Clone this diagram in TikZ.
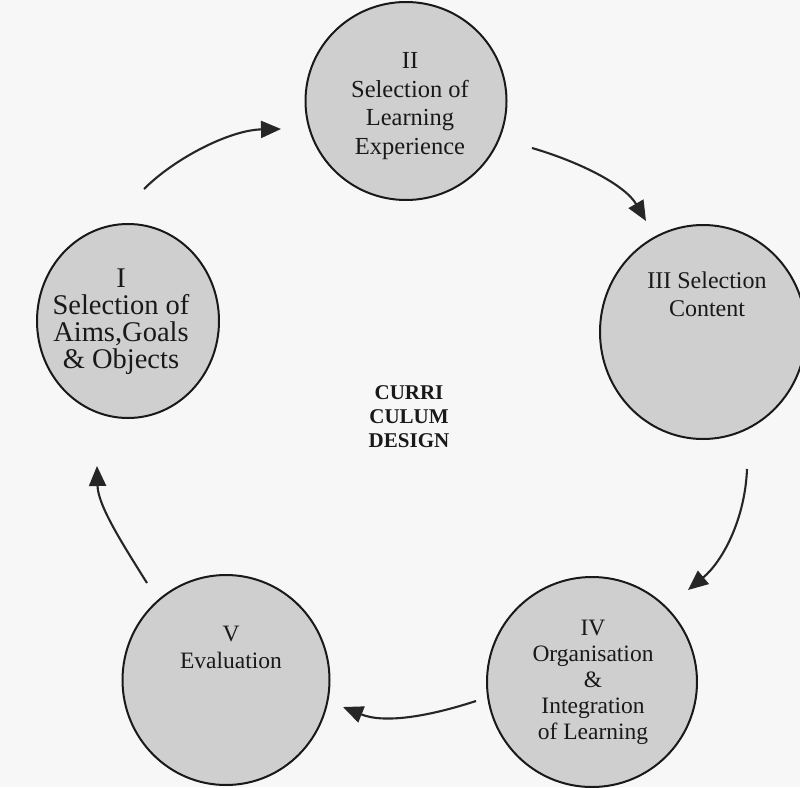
\documentclass[tikz,border=0pt]{standalone}
\usepackage{fontspec}
\setmainfont{Liberation Serif}
\usetikzlibrary{arrows.meta,shapes.geometric}
\tikzset{
  stage/.style={ellipse, draw=black!90, line width=2pt, fill=black!19, inner sep=0pt},
  stagetext/.style={align=center, text=black!90, inner sep=0pt},
  cycarrow/.style={draw=black!85, line width=2.1pt, -{Triangle[length=20pt,width=17pt]}}
}
\begin{document}
\begin{tikzpicture}[x=1pt,y=-1pt]
\fill[black!3] (0,0) rectangle (800,787);
\useasboundingbox (0,0) rectangle (800,787);
% circles
\node[stage, minimum width=182pt, minimum height=194pt] (c1) at (128,321) {};
\node[stage, minimum width=201pt, minimum height=198pt] (c2) at (406,101) {};
\node[stage, minimum width=206pt, minimum height=214pt] (c3) at (703,332) {};
\node[stage, minimum width=210pt, minimum height=210pt] (c4) at (592,682) {};
\node[stage, minimum width=207pt, minimum height=210pt] (c5) at (226,680) {};
% texts
\node[stagetext, font=\fontsize{28.5}{27}\selectfont] (t1) at (121,322) {I\\Selection of\\Aims,Goals\\\& Objects};
\node[stagetext, font=\fontsize{24.5}{28.5}\selectfont] (t2) at (410,106) {II\\Selection of\\Learning\\Experience};
\node[stagetext, font=\fontsize{24}{28}\selectfont] (t3) at (707,294) {III Selection\\Content};
\node[stagetext, font=\fontsize{23.5}{26}\selectfont] (t4) at (593,682) {IV\\Organisation\\\&\\Integration\\of Learning};
\node[stagetext, font=\fontsize{23.5}{27}\selectfont] (t5) at (231,647) {V\\Evaluation};
\node[stagetext, font=\bfseries\fontsize{21}{24}\selectfont] (center) at (409,417) {CURRI\\CULUM\\DESIGN};
% arrow ends
\coordinate (a1s) at (144,189);
\coordinate (a1e) at (281,129);
\coordinate (a2s) at (532,148);
\coordinate (a2e) at (646,221);
\coordinate (a3s) at (747,469);
\coordinate (a3e) at (688,590);
\coordinate (a4s) at (476,701);
\coordinate (a4e) at (343,707);
\coordinate (a5s) at (147,583);
\coordinate (a5e) at (97,466);
% arrows
\draw[cycarrow] (a1s) .. controls (175,158) and (230,130) .. (a1e);
\draw[cycarrow] (a2s) .. controls (580,162) and (625,185) .. (a2e);
\draw[cycarrow] (a3s) .. controls (745,520) and (722,562) .. (a3e);
\draw[cycarrow] (a4s) .. controls (430,716) and (385,724) .. (a4e);
\draw[cycarrow] (a5s) .. controls (120,540) and (98,505) .. (a5e);
\end{tikzpicture}
\end{document}
